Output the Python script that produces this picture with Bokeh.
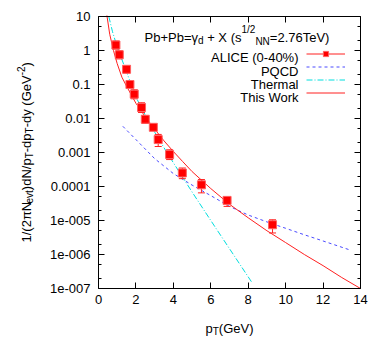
import math
from bokeh.plotting import figure
from bokeh.models import (ColumnDataSource, FixedTicker, Label, Legend, LegendItem,
                          LinearAxis, LogAxis, Range1d)
from bokeh.embed import file_html
from bokeh.resources import INLINE

# ---------------- data ----------------
alice_pt = [0.93, 1.11, 1.5, 1.68, 1.91, 2.3, 2.5, 2.93, 3.19, 3.8, 4.48, 5.5, 6.87, 9.3]
alice_y = [1.45, 0.75, 0.28, 0.10, 0.052, 0.021, 0.0095, 0.0055, 0.0024, 0.00087, 0.00025, 0.000112, 3.9e-5, 7.5e-6]
alice_hi = [1.9, 0.98, 0.35, 0.125, 0.07, 0.029, 0.012, 0.0068, 0.0034, 0.0012, 0.00035, 0.00016, 4.9e-5, 1.05e-5]
alice_lo = [1.1, 0.57, 0.22, 0.08, 0.038, 0.015, 0.0072, 0.0045, 0.0015, 0.00062, 0.00017, 6.5e-5, 2.6e-5, 4.3e-6]

work_pt = [0.45, 0.6, 0.8, 1.0, 1.25, 1.5, 2.0, 2.5, 3.0, 3.5, 4.0, 4.5, 5.0, 6.0, 7.0, 8.0, 9.0, 10, 11, 12, 13, 14]
work_y = [10.7, 3.0, 1.0, 0.41, 0.164, 0.089, 0.028, 0.0112, 0.0049, 0.0022, 0.00107, 0.00054, 0.000275,
          8.7e-5, 3.0e-5, 1.2e-5, 5.0e-6, 2.24e-6, 1.0e-6, 4.7e-7, 2.1e-7, 1.0e-7]

thermal_pt = [0.55, 0.75, 1.0, 1.5, 2.0, 2.5, 3.0, 3.5, 4.0, 5.0, 6.0, 7.0, 8.2]
thermal_y = [10.0, 3.55, 1.26, 0.234, 0.0427, 0.0126, 0.00398, 0.00138, 0.0005, 6.9e-5, 1.0e-5, 1.48e-6, 1.5e-7]

pqcd_pt = [1.3, 2.0, 3.0, 4.0, 5.0, 6.0, 7.0, 8.0, 9.0, 10, 11, 12, 13.4]
pqcd_y = [5.9e-3, 2.4e-3, 6.6e-4, 2.4e-4, 1.1e-4, 5.4e-5, 2.6e-5, 1.45e-5, 9.1e-6, 5.9e-6, 3.8e-6, 2.5e-6, 1.38e-6]

x_ticks = [0, 2, 4, 6, 8, 10, 12, 14]
y_ticks = [1e-7, 1e-6, 1e-5, 1e-4, 1e-3, 1e-2, 1e-1, 1, 10]
y_tick_labels = ["1e-007", "1e-006", "1e-005", "0.0001", "0.001", "0.01", "0.1", "1", "10"]
y_minor = [m * t for t in y_ticks[:-1] for m in (2, 5)]

NB = "\u00a0"
legend_labels = ["ALICE (0-40%)", "PQCD", "Thermal", "This Work"]
title_pieces = [("Pb+Pb=\u03b3", 13, 0), ("d", 10, -3), (NB + "+" + NB + "X" + NB + "(s", 13, 0), ("1/2", 10, 8),
                ("NN", 10, -3.5), ("=2.76TeV)", 13, 0)]
xlabel_pieces = [("p", 13, 0), ("T", 10, -3), ("(GeV)", 13, 0)]
ylabel_pieces = [("1/(2\u03c0N", 13, 0), ("evt", 10, -3), (")dN/p", 13, 0), ("T", 10, -3),
                 ("-dp", 13, 0), ("T", 10, -3), ("-dy" + NB + "(GeV", 13, 0), ("-2", 10, 5.5), (")", 13, 0)]

FONT = "Liberation Sans"
RED = "#ff2020"
X_MIN, X_MAX, Y_MIN, Y_MAX = 0, 14, 1e-7, 10
W, H = 372, 338
# data box in canvas pixels
BL, BR, BT, BB = 98.0, 360.0, 16.0, 288.0

# Arial advance widths (per 1000 em)
AW = {'0': 556, '1': 556, '2': 556, '3': 556, '4': 556, '5': 556, '6': 556, '7': 556, '8': 556, '9': 556,
      '/': 278, '(': 333, ')': 333, '\u03c0': 556, 'N': 722, 'e': 556, 'v': 500, 't': 278, 'd': 556,
      'p': 556, 'T': 611, '-': 333, 'y': 500, ' ': 278, NB: 278, 'G': 778, 'V': 667, 'P': 667, 'b': 556,
      '+': 584, '=': 584, '\u03b3': 500, 'X': 667, 's': 500, '.': 278}


def tw(s, size):
    return sum(AW.get(c, 556) for c in s) * size / 1000.0


# frame covers the whole canvas; ranges are widened so the data box sits at BL..BR, BT..BB
sx = (BR - BL) / (X_MAX - X_MIN)
ldec = (BB - BT) / (math.log10(Y_MAX) - math.log10(Y_MIN))
x_range = Range1d(X_MIN - BL / sx, X_MAX + (W - BR) / sx)
y_range = Range1d(10 ** (math.log10(Y_MIN) - (H - BB) / ldec), 10 ** (math.log10(Y_MAX) + BT / ldec))

p = figure(width=W, height=H, x_range=x_range, y_range=y_range, y_axis_type="log", title=None,
           output_backend="svg", toolbar_location=None,
           min_border_left=0, min_border_right=0, min_border_top=0, min_border_bottom=0)
p.xgrid.visible = False
p.ygrid.visible = False
p.outline_line_color = None
p.background_fill_color = "white"
p.border_fill_color = "white"

xt = FixedTicker(ticks=x_ticks, minor_ticks=[])
yt = FixedTicker(ticks=y_ticks, minor_ticks=y_minor)


def style(ax, ticker, bounds, loc, show_labels=True):
    ax.ticker = ticker
    ax.bounds = bounds
    ax.fixed_location = loc
    ax.axis_line_color = "black"
    ax.major_tick_line_color = "black"
    ax.minor_tick_line_color = "black"
    ax.major_tick_in = 6
    ax.major_tick_out = 0
    ax.minor_tick_in = 3
    ax.minor_tick_out = 0
    ax.major_label_text_font = FONT
    ax.major_label_text_font_size = "13px"
    ax.major_label_text_color = "black" if show_labels else None


style(p.xaxis[0], xt, (X_MIN, X_MAX), Y_MIN)
style(p.yaxis[0], yt, (Y_MIN, Y_MAX), X_MIN)
p.yaxis.major_label_overrides = {t: s for t, s in zip(y_ticks, y_tick_labels)}
p.xaxis.major_label_standoff = 6
p.yaxis.major_label_standoff = 8

top = LinearAxis()
style(top, xt, (X_MIN, X_MAX), Y_MAX, show_labels=False)
p.add_layout(top, "above")
right = LogAxis()
style(right, yt, (Y_MIN, Y_MAX), X_MAX, show_labels=False)
p.add_layout(right, "right")

# curves
r_pqcd = p.line(pqcd_pt, pqcd_y, line_color="#4b4bff", line_width=1, line_dash="3 3")
r_th = p.line(thermal_pt, thermal_y, line_color="#00dede", line_width=1, line_dash="6 2 1 2")
r_work = p.line(work_pt, work_y, line_color=RED, line_width=1)

src = ColumnDataSource(dict(x=alice_pt, y=alice_y, hi=alice_hi, lo=alice_lo))
r_err = p.segment(x0="x", y0="lo", x1="x", y1="hi", source=src, line_color=RED, line_width=1)
p.scatter("x", "hi", source=src, marker="dash", size=7, line_color=RED)
p.scatter("x", "lo", source=src, marker="dash", size=7, line_color=RED)
r_pts = p.scatter("x", "y", source=src, marker="square", size=8, fill_color="#ff0000", line_color="#ff6060")

legend = Legend(items=[LegendItem(label=NB, renderers=[r_err, r_pts]),
                       LegendItem(label=NB, renderers=[r_pqcd]),
                       LegendItem(label=NB, renderers=[r_th]),
                       LegendItem(label=NB, renderers=[r_work])],
                location=(306, H - 99), glyph_width=39, glyph_height=13, label_height=13,
                label_width=1, label_standoff=0, spacing=0, padding=0, margin=0,
                border_line_alpha=0, background_fill_alpha=0, label_text_font_size="6px")
p.add_layout(legend)


def add_text(txt, px, py, size, align="left", angle=0.0):
    # px, py: canvas pixel coords from top-left (frame == canvas)
    p.add_layout(Label(x=px, y=H - py, x_units="screen", y_units="screen", text=txt, angle=angle,
                       text_font=FONT, text_font_size=f"{size}px", text_color="black",
                       text_align=align, text_baseline="alphabetic"))


def place_h(pieces, x0, base):
    x = x0
    for t, s, sh in pieces:
        add_text(t, x, base - sh, s)
        x += tw(t, s)


def place_v(pieces, bx, y0):
    y = y0
    for t, s, sh in pieces:
        add_text(t, bx - sh, y, s, angle=math.pi / 2)
        y -= tw(t, s)


place_h(title_pieces, 144, 37)
place_h(xlabel_pieces, 205, 327.5)
place_v(ylabel_pieces, 25.5, 242)

for lab, base in zip(legend_labels, [57.3, 70.7, 84.0, 97.3]):
    add_text(lab, 298, base, 13, align="right")

open("out.html", "w").write(file_html(p, INLINE))
